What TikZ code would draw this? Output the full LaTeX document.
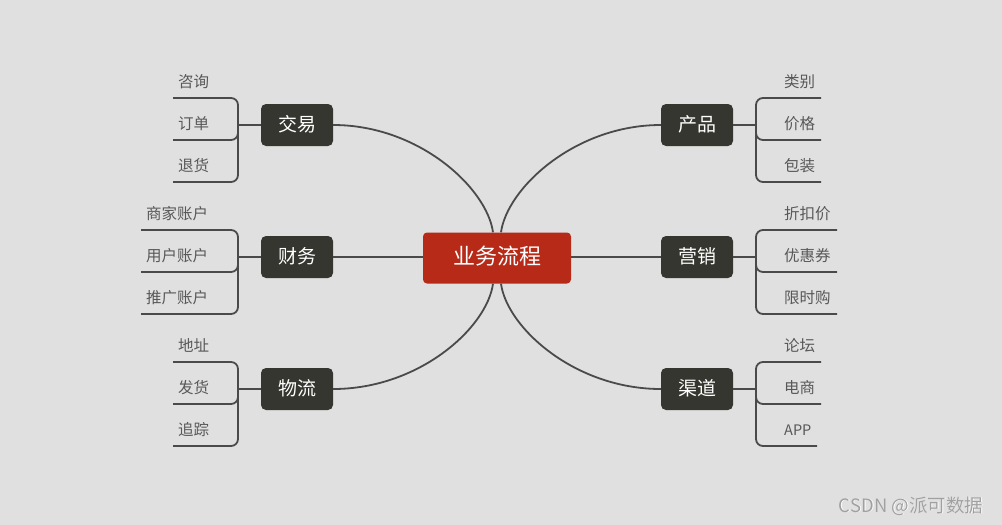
\documentclass[tikz,border=0pt]{standalone}
\usepackage{fontspec}
\setmainfont{Noto Sans CJK SC}
\definecolor{bgc}{RGB}{224,224,224}
\definecolor{hubred}{RGB}{183,42,24}
\definecolor{topicdark}{RGB}{54,54,48}
\definecolor{linegray}{RGB}{74,74,74}
\definecolor{leafgray}{RGB}{88,88,88}
\definecolor{markgray}{RGB}{160,160,160}
\begin{document}
\begin{tikzpicture}[x=1pt,y=-1pt,
 vc/.style={text height=1.2em, text depth=0em},
 hub/.style={fill=hubred, rounded corners=4pt, minimum width=148pt, minimum height=51pt, text=white, font=\fontsize{22}{22}\selectfont, inner sep=0pt, vc},
 topic/.style={fill=topicdark, rounded corners=5pt, minimum width=72pt, minimum height=42pt, text=white, font=\fontsize{19}{19}\selectfont, inner sep=0pt, vc},
 leaf/.style={text=leafgray, font=\fontsize{15.5}{16}\selectfont, anchor=west, inner sep=0pt, vc},
 conn/.style={draw=linegray, line width=1.8pt},
 brk/.style={conn, rounded corners=7pt}]
\useasboundingbox (0,0) rectangle (1002,525);
\fill[bgc] (0,0) rectangle (1002,525);

% main nodes
\node[hub] (hub) at (497,258) {业务流程};
\node[topic] (jy) at (297,125) {交易};
\node[topic] (cw) at (297,257) {财务};
\node[topic] (wl) at (297,389) {物流};
\node[topic] (cp) at (697,125) {产品};
\node[topic] (yx) at (697,257) {营销};
\node[topic] (qd) at (697,389) {渠道};

% hub connectors
\draw[conn] ([xshift=-4pt]hub.north) .. controls +(-6,-44) and +(86,0) .. (jy.east);
\draw[conn] ([xshift=4pt]hub.north) .. controls +(6,-44) and +(-86,0) .. (cp.west);
\draw[conn] ([xshift=-4pt]hub.south) .. controls +(-6,44) and +(86,0) .. (wl.east);
\draw[conn] ([xshift=4pt]hub.south) .. controls +(6,44) and +(-86,0) .. (qd.west);
\draw[conn] (cw.east) -- (cw.east -| hub.west);
\draw[conn] (yx.west) -- (yx.west -| hub.east);

% left brackets
\coordinate (jyb) at (238,125);
\coordinate (cwb) at (238,257);
\coordinate (wlb) at (238,389);
\draw[conn] (jy.west) -- (jyb);
\draw[conn] (cw.west) -- (cwb);
\draw[conn] (wl.west) -- (wlb);

\draw[brk] (173,98) -- (238,98) -- (238,182) -- (173,182);
\draw[brk] (238,120) -- (238,140) -- (173,140);
\node[leaf] (l1) at (178,81) {咨询};
\node[leaf] (l2) at (178,123) {订单};
\node[leaf] (l3) at (178,165) {退货};

\draw[brk] (141,230) -- (238,230) -- (238,314) -- (141,314);
\draw[brk] (238,252) -- (238,272) -- (141,272);
\node[leaf] (l4) at (146,213) {商家账户};
\node[leaf] (l5) at (146,255) {用户账户};
\node[leaf] (l6) at (146,297) {推广账户};

\draw[brk] (173,362) -- (238,362) -- (238,446) -- (173,446);
\draw[brk] (238,384) -- (238,404) -- (173,404);
\node[leaf] (l7) at (178,345) {地址};
\node[leaf] (l8) at (178,387) {发货};
\node[leaf] (l9) at (178,429) {追踪};

% right brackets
\coordinate (cpb) at (756,125);
\coordinate (yxb) at (756,257);
\coordinate (qdb) at (756,389);
\draw[conn] (cp.east) -- (cpb);
\draw[conn] (yx.east) -- (yxb);
\draw[conn] (qd.east) -- (qdb);

\draw[brk] (821,98) -- (756,98) -- (756,182) -- (821,182);
\draw[brk] (756,120) -- (756,140) -- (821,140);
\node[leaf] (r1) at (784,81) {类别};
\node[leaf] (r2) at (784,123) {价格};
\node[leaf] (r3) at (784,165) {包装};

\draw[brk] (837,230) -- (756,230) -- (756,314) -- (837,314);
\draw[brk] (756,252) -- (756,272) -- (837,272);
\node[leaf] (r4) at (784,213) {折扣价};
\node[leaf] (r5) at (784,255) {优惠券};
\node[leaf] (r6) at (784,297) {限时购};

\draw[brk] (821,362) -- (756,362) -- (756,446) -- (817,446);
\draw[brk] (756,384) -- (756,404) -- (821,404);
\node[leaf] (r7) at (784,345) {论坛};
\node[leaf] (r8) at (784,387) {电商};
\node[leaf, font=\fontsize{14.5}{16}\selectfont] (r9) at (784,429) {APP};

% watermark
\node[text=white, font=\fontsize{18.5}{19}\selectfont, inner sep=0pt, vc] (wm2) at (911.8,506.8) {CSDN @派可数据};
\node[text=markgray, font=\fontsize{18.5}{19}\selectfont, inner sep=0pt, vc] (wm) at (911,506) {CSDN @派可数据};
\end{tikzpicture}
\end{document}
